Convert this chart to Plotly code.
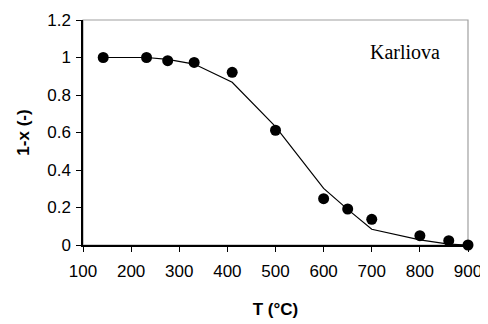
import plotly.graph_objects as go

T_data = [142, 232, 276, 331, 410, 500, 600, 650, 700, 800, 860, 900]
y_data = [1.0, 1.0, 0.983, 0.974, 0.921, 0.612, 0.247, 0.192, 0.137, 0.050, 0.023, 0.0]

T_model = [142, 232, 276, 331, 410, 500, 600, 650, 700, 800, 860, 900]
y_model = [1.0, 1.0, 0.99, 0.965, 0.868, 0.631, 0.302, 0.19, 0.084, 0.027, 0.005, 0.0]

x_ticks = [100, 200, 300, 400, 500, 600, 700, 800, 900]
y_ticks = [0, 0.2, 0.4, 0.6, 0.8, 1, 1.2]
y_tick_labels = ["0", "0.2", "0.4", "0.6", "0.8", "1", "1.2"]

fig = go.Figure()
fig.add_trace(go.Scatter(x=T_model, y=y_model, mode="lines",
                         line=dict(color="black", width=1.2), showlegend=False,
                         cliponaxis=False))
fig.add_trace(go.Scatter(x=T_data, y=y_data, mode="markers",
                         marker=dict(color="black", size=11), showlegend=False,
                         cliponaxis=False))

fig.add_shape(type="rect", xref="paper", yref="paper", x0=0, x1=1, y0=0, y1=1,
              line=dict(color="#a0a0a0", width=1.2), layer="below")

fig.add_annotation(x=0.836, y=0.858, xref="paper", yref="paper", text="Karliova",
                   xanchor="center", yanchor="middle",
                   showarrow=False, font=dict(family="Liberation Serif", size=20, color="black"))

# page body has an 8px default margin, so the figure is 8px smaller
fig.update_layout(
    width=480, height=316,
    margin=dict(l=75, r=20, t=12, b=79, autoexpand=False),
    paper_bgcolor="white", plot_bgcolor="white",
    font=dict(family="Liberation Sans, Arial", color="black", size=17),
)
fig.update_xaxes(range=[100, 900], tickvals=x_ticks, ticks="outside", ticklen=5,
                 tickcolor="black", showline=True, linecolor="black", linewidth=1.5,
                 showgrid=False, zeroline=False, ticklabelstandoff=5, automargin=False,
                 title=dict(text="<b>T (°C)</b>", font=dict(size=17), standoff=23))
fig.update_yaxes(range=[0, 1.2], tickvals=y_ticks, ticktext=y_tick_labels, ticks="outside",
                 ticklen=5, tickcolor="black", showline=True, linecolor="black", linewidth=1.5,
                 showgrid=False, zeroline=False, ticklabelstandoff=2, automargin=False,
                 title=dict(text="<b>1-x (-)</b>", font=dict(size=17), standoff=13))

fig.write_html("out.html")
